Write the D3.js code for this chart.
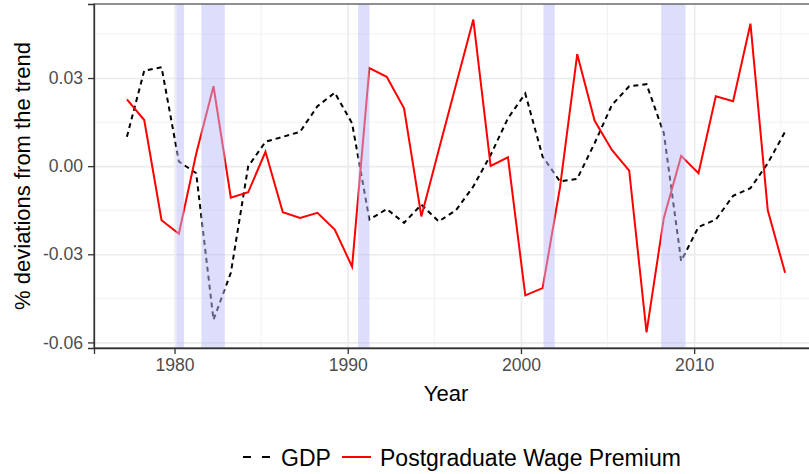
<!DOCTYPE html>
<html>
<head>
<meta charset="utf-8">
<script src="https://cdn.jsdelivr.net/npm/d3@7"></script>
<style>
  body { margin: 0; background: #fff; overflow: hidden; }
  svg { display: block; font-family: "Liberation Sans", Arial, sans-serif; }
</style>
</head>
<body>
<svg id="chart" width="809" height="474"></svg>
<script>
// series values (deviation from trend)
let years = d3.range(1977, 2016)

let gdp = [0.0100, 0.0325, 0.0337, 0.0016, -0.0024, -0.0523, -0.0363, -0.0001, 0.0083, 0.0100,
  0.0117, 0.0204, 0.0250, 0.0146, -0.0182, -0.0146, -0.0193, -0.0131, -0.0188, -0.0150,
  -0.0069, 0.0038, 0.0163, 0.0247, 0.0033, -0.0052, -0.0043, 0.0078, 0.0208, 0.0272,
  0.0279, 0.0112, -0.0323, -0.0207, -0.0182, -0.0101, -0.0075, 0.0010, 0.0117]

let wagePremium = [0.0227, 0.0157, -0.0184, -0.0230, 0.0042, 0.0272, -0.0107, -0.0089, 0.0049, -0.0157,
  -0.0176, -0.0159, -0.0216, -0.0342, 0.0334, 0.0304, 0.0197, -0.0171, 0.0054, 0.0277,
  0.0499, 0.0001, 0.0030, -0.0440, -0.0415, -0.0074, 0.0381, 0.0155, 0.0055, -0.0015,
  -0.0566, -0.0176, 0.0035, -0.0024, 0.0238, 0.0221, 0.0485, -0.0150, -0.0363]

// recession periods (decimal years)
let recessionStart = [1980.1, 1981.55, 1990.6, 2001.3, 2008.1]
let recessionEnd = [1980.55, 1982.9, 1991.25, 2001.95, 2009.5]

// tick labels
let xTicks = [1980, 1990, 2000, 2010]
let yTicks = [-0.06, -0.03, 0.00, 0.03]
let seriesNames = ["GDP", "Postgraduate Wage Premium"]

// observations are dated in the spring of each year
let obsOffset = 0.25

let plotVars = ({
  left: 94,
  right: 818,
  top: 4,
  bottom: 348,
})

let svg = d3.select("#chart")

let xScale = d3.scaleLinear()
  .domain([1975.35, 2017.15])
  .range([plotVars.left, plotVars.right])

let yScale = d3.scaleLinear()
  .domain([-0.0619, 0.0552])
  .range([plotVars.bottom, plotVars.top])

// panel background
svg.append("rect")
  .attr("x", plotVars.left).attr("y", plotVars.top)
  .attr("width", plotVars.right - plotVars.left)
  .attr("height", plotVars.bottom - plotVars.top)
  .style("fill", "#fff")

// minor gridlines
let grid = svg.append("g").attr("class", "grid")
grid.selectAll(".xminor")
  .data([1985, 1995, 2005, 2015])
  .join("line")
  .attr("x1", d => xScale(d)).attr("x2", d => xScale(d))
  .attr("y1", plotVars.top).attr("y2", plotVars.bottom)
  .style("stroke", "#f2f2f2").style("stroke-width", 1)
grid.selectAll(".yminor")
  .data([-0.045, -0.015, 0.015, 0.045])
  .join("line")
  .attr("x1", plotVars.left).attr("x2", plotVars.right)
  .attr("y1", d => yScale(d)).attr("y2", d => yScale(d))
  .style("stroke", "#f2f2f2").style("stroke-width", 1)

// major gridlines
grid.append("g")
  .attr("transform", `translate(0,${plotVars.bottom})`)
  .call(d3.axisBottom(xScale).tickValues(xTicks)
    .tickSize(-(plotVars.bottom - plotVars.top)).tickFormat(""))
  .call(g => g.select(".domain").remove())
  .call(g => g.selectAll("line").style("stroke", "#ebebeb").style("stroke-width", 1.6))
grid.append("g")
  .attr("transform", `translate(${plotVars.left},0)`)
  .call(d3.axisLeft(yScale).tickValues(yTicks)
    .tickSize(-(plotVars.right - plotVars.left)).tickFormat(""))
  .call(g => g.select(".domain").remove())
  .call(g => g.selectAll("line").style("stroke", "#ebebeb").style("stroke-width", 1.6))

// the two series
let seriesLine = d3.line()
  .x((d, i) => xScale(years[i] + obsOffset))
  .y(d => yScale(d))

svg.append("path")
  .datum(gdp)
  .attr("d", seriesLine)
  .style("fill", "none")
  .style("stroke", "#000")
  .style("stroke-width", 2)
  .style("stroke-dasharray", "5,4")

svg.append("path")
  .datum(wagePremium)
  .attr("d", seriesLine)
  .style("fill", "none")
  .style("stroke", "#ff0000")
  .style("stroke-width", 2)

// recession shading drawn on top
svg.append("g")
  .selectAll("rect")
  .data(recessionStart)
  .join("rect")
  .attr("x", d => xScale(d))
  .attr("width", (d, i) => xScale(recessionEnd[i]) - xScale(d))
  .attr("y", plotVars.top)
  .attr("height", plotVars.bottom - plotVars.top)
  .style("fill", "#bbbbfa")
  .style("opacity", 0.5)

// panel border
svg.append("rect")
  .attr("x", plotVars.left).attr("y", plotVars.top)
  .attr("width", plotVars.right - plotVars.left)
  .attr("height", plotVars.bottom - plotVars.top)
  .style("fill", "none")
  .style("stroke", "#555")
  .style("stroke-width", 1.3)

// axes (hyphen minus like the original)
let yFormat = d => d3.format(".2f")(d).replace("−", "-")

let xAxis = svg.append("g")
  .attr("class", "axis")
  .attr("transform", `translate(0,${plotVars.bottom})`)
  .call(d3.axisBottom(xScale).tickValues(xTicks).tickSize(6).tickPadding(5).tickFormat(d3.format("d")))

let yAxis = svg.append("g")
  .attr("class", "axis")
  .attr("transform", `translate(${plotVars.left},0)`)
  .call(d3.axisLeft(yScale).tickValues(yTicks).tickSize(6).tickPadding(5).tickFormat(yFormat))

svg.selectAll(".axis .domain").style("stroke", "#333").style("stroke-width", 1.3)
svg.selectAll(".axis .tick line").style("stroke", "#333").style("stroke-width", 1.3)
svg.selectAll(".axis .tick text")
  .style("font-family", "Liberation Sans, Arial, sans-serif")
  .style("font-size", "17.6px")
  .style("fill", "#4d4d4d")

// axis titles
svg.append("text")
  .attr("x", (plotVars.left + plotVars.right) / 2 - 10)
  .attr("y", 401)
  .style("text-anchor", "middle")
  .style("font-size", "22px")
  .style("fill", "#000")
  .text("Year")

svg.append("text")
  .attr("transform", `translate(30,${(plotVars.top + plotVars.bottom) / 2}) rotate(-90)`)
  .style("text-anchor", "middle")
  .style("font-size", "22px")
  .style("fill", "#000")
  .text("% deviations from the trend")

// legend
let legend = svg.append("g").attr("transform", "translate(243,457)")
legend.append("line")
  .attr("x1", 0).attr("x2", 29).attr("y1", 0).attr("y2", 0)
  .style("stroke", "#000").style("stroke-width", 2).style("stroke-dasharray", "8,11")
legend.append("text")
  .attr("x", 38).attr("y", 8.5)
  .style("font-size", "23px")
  .text(seriesNames[0])
legend.append("line")
  .attr("x1", 99).attr("x2", 128).attr("y1", 0).attr("y2", 0)
  .style("stroke", "#ff0000").style("stroke-width", 2)
legend.append("text")
  .attr("x", 137).attr("y", 8.5)
  .style("font-size", "23px")
  .text(seriesNames[1])
</script>
</body>
</html>
